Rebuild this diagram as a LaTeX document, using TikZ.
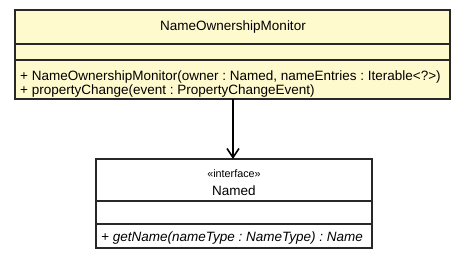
\documentclass[tikz,border=0pt]{standalone}
\usepackage{fontspec}
\setmainfont{Liberation Sans}
\usetikzlibrary{arrows.meta}
\frenchspacing
\definecolor{classfill}{RGB}{255,250,206}
\definecolor{edge}{RGB}{40,40,40}
\tikzset{
  x=1pt, y=-1pt,
  classbox/.style={draw=edge, line width=1.3pt},
  txt/.style={inner sep=0pt, font=\fontsize{13.5}{15}\selectfont},
  member/.style={txt, anchor=base west},
  dep/.style={draw=black, line width=1.4pt, -{Straight Barb[length=9pt,width=12pt,line width=1.6pt]}}
}
\begin{document}
\begin{tikzpicture}
\useasboundingbox (0,0) rectangle (467,261);
% NameOwnershipMonitor class
\path[classbox, fill=classfill] (15,10) rectangle (450,99);
\draw[classbox] (15,44) -- (450,44);
\draw[classbox] (15,60) -- (450,60);
\node[txt] (monname) at (233,27) {NameOwnershipMonitor};
\node[member] (ctor) at (20,81) {+ NameOwnershipMonitor(owner : Named, nameEntries : Iterable<?>)};
\node[member] (pc) at (20,94.5) {+ propertyChange(event : PropertyChangeEvent)};
\coordinate (monbot) at (233,99);
% Named interface
\path[classbox, fill=white] (96,159) rectangle (372,248);
\draw[classbox] (96,201) -- (372,201);
\draw[classbox] (96,224) -- (372,224);
\node[txt, font=\fontsize{10.8}{13}\selectfont] (stereo) at (234,174) {«interface»};
\node[txt] (namedname) at (234,191) {Named};
\node[member, font=\fontsize{13.5}{15}\itshape] (getname) at (101,242) {+ getName(nameType : NameType) : Name};
\coordinate (namedtop) at (233,159);
% dependency
\draw[dep] (monbot) -- (namedtop);
\end{tikzpicture}
\end{document}
